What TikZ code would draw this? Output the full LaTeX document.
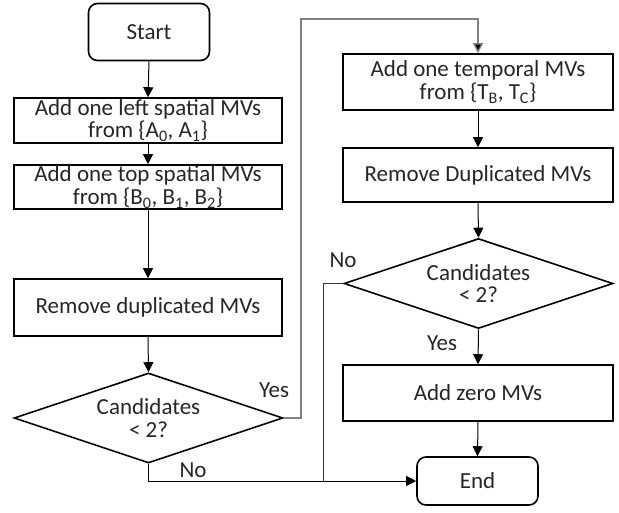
\documentclass[tikz,border=0pt]{standalone}
\usepackage{fontspec}
\setmainfont{Carlito}
\usetikzlibrary{shapes.geometric,arrows.meta}
\begin{document}
\begin{tikzpicture}[x=1pt,y=1pt,
  every node/.style={font=\fontsize{23}{22.5}\selectfont, text=black!85},
  procbox/.style={draw=black, line width=1.6pt, rectangle, minimum width=268pt, inner sep=0pt, align=center},
  termbox/.style={draw=black, line width=1.6pt, rectangle, rounded corners=9pt, minimum width=121pt, inner sep=0pt},
  decbox/.style={draw=black, line width=1.6pt, diamond, aspect=3, inner sep=0pt, minimum width=269pt, minimum height=90pt, align=center},
  flow/.style={draw=black, line width=1pt, -{Triangle[length=10pt,width=10pt,fill=black]}},
  loopline/.style={draw=black!50, line width=1.4pt, -{Triangle[length=10pt,width=10pt,fill=black]}},
  plainline/.style={draw=black!80, line width=1pt},
  lab/.style={inner sep=0pt}
]
\useasboundingbox (0,0) rectangle (619,-512);
\node[termbox, minimum height=57pt] (start) at (149,-32) {Start};
\node[procbox, minimum height=45pt] (b1) at (148,-120.5) {Add one left spatial MVs\\from \{A\textsubscript{0}, A\textsubscript{1}\}};
\node[procbox, minimum height=44pt] (b2) at (148,-187) {Add one top spatial MVs\\from \{B\textsubscript{0}, B\textsubscript{1}, B\textsubscript{2}\}};
\node[procbox, minimum height=57pt] (b3) at (148,-307.5) {Remove duplicated MVs};
\node[decbox] (d1) at (148.5,-418) {Candidates\\< 2?};
\node[procbox, minimum width=270pt, minimum height=56pt] (b4) at (478,-82) {Add one temporal MVs\\from \{T\textsubscript{B}, T\textsubscript{C}\}};
\node[procbox, minimum width=270pt, minimum height=54pt] (b5) at (478,-175) {Remove Duplicated MVs};
\node[decbox] (d2) at (478.5,-283.5) {Candidates\\< 2?};
\node[procbox, minimum width=270pt, minimum height=56pt] (b6) at (478,-393) {Add zero MVs};
\node[termbox, minimum height=48pt] (end) at (477.5,-481) {End};

\coordinate (y1) at (301,-19);
\coordinate (n2) at (323,-481);

\draw[flow] (start.south) -- (b1.north);
\draw[flow] (b1.south) -- (b2.north);
\draw[flow] (b2.south) -- (b3.north);
\draw[flow] (b3.south) -- (d1.north);
\draw[flow] (b4.south) -- (b5.north);
\draw[flow] (b5.south) -- (d2.north);
\draw[flow] (d2.south) -- (b6.north);
\draw[flow] (b6.south) -- (end.north);
\draw[loopline] (d1.east) -| (y1) -| (b4.north);
\draw[flow] (d1.south) |- (end.west);
\draw[plainline] (d2.west) -| (n2);

\node[lab] (ly1) at (274,-390) {Yes};
\node[lab] (ln1) at (193,-470) {No};
\node[lab] (ln2) at (343,-260) {No};
\node[lab] (ly2) at (442,-343) {Yes};
\end{tikzpicture}
\end{document}
